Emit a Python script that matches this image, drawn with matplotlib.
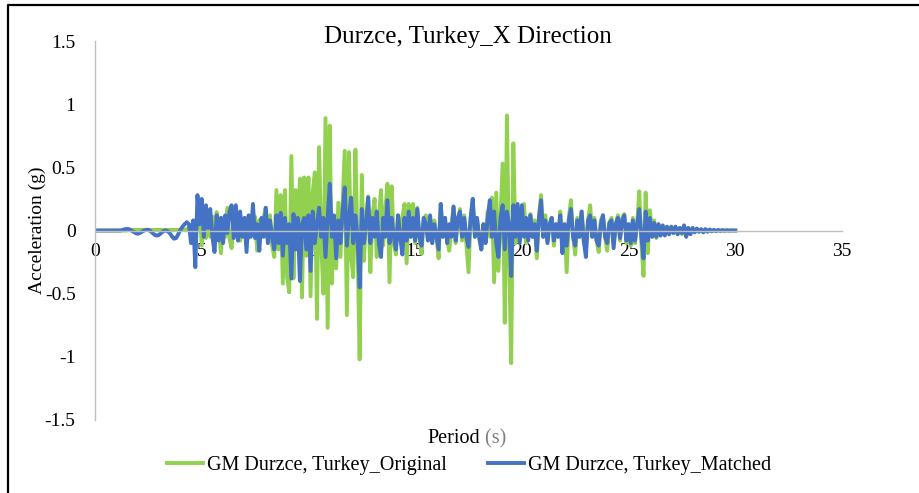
import numpy as np
import matplotlib
matplotlib.use("Agg")
import matplotlib.pyplot as plt
from matplotlib.lines import Line2D

plt.rcParams['font.family'] = ['Liberation Serif', 'DejaVu Serif']
plt.rcParams['axes.unicode_minus'] = False

# sample step of the records (s)
time_step = 0.1

# GM Durzce, Turkey_Original (g), one row per second
orig_acc = [
    0, 0, 0, 0, 0, 0, 0, 0, 0, 0,
    0, 0, 0, 0, 0, 0, 0.005, 0.005, 0.005, 0.005,
    0.005, 0.005, 0.005, 0.005, 0.005, 0.005, 0.005, 0.005, 0.005, 0.005,
    0.005, 0.005, 0.005, 0.005, 0.005, 0.005, 0.005, 0.005, 0.005, 0.005,
    0.005, 0.005, 0.005, 0.01, 0.02, 0.04, 0.06, -0.06, 0.05, 0.18,
    -0.12, 0.15, -0.06, 0.12, -0.05, 0.11, -0.03, 0.145, 0.02, -0.18,
    0.10, -0.05, 0.18, -0.06, -0.14, 0.12, -0.04, 0.13, -0.08, 0.08,
    -0.05, 0.10, -0.06, 0.09, -0.03, 0.11, -0.16, 0.08, -0.05, 0.10,
    0.18, -0.08, 0.12, -0.12, -0.21, 0.32, -0.15, 0.28, -0.42, 0.32,
    -0.37, -0.49, 0.59, -0.38, 0.32, -0.10, 0.41, -0.53, 0.42, -0.20,
    0.42, -0.52, 0.30, 0.46, -0.70, 0.66, -0.10, -0.50, 0.89, -0.77,
    0.83, -0.42, 0.10, -0.30, 0.22, -0.21, 0.20, 0.63, -0.67, 0.62,
    -0.20, -0.37, 0.64, -0.10, -1.02, 0.44, -0.24, 0.10, 0.27, -0.33,
    0.12, 0.25, -0.21, 0.10, 0.32, -0.12, 0.15, 0.37, -0.41, 0.35,
    -0.10, -0.19, 0.12, -0.08, 0.10, 0.21, -0.26, 0.21, -0.05, 0.21,
    -0.10, 0.18, -0.05, -0.185, 0.08, 0.12, -0.06, 0.10, -0.10, 0.08,
    -0.04, -0.22, 0.21, -0.05, 0.10, -0.08, -0.16, 0.05, 0.185, -0.10,
    0.05, 0.17, -0.08, 0.12, -0.10, -0.33, 0.10, 0.25, -0.05, 0.08,
    -0.06, -0.15, 0.05, -0.08, 0.15, -0.05, 0.26, -0.41, 0.30, -0.32,
    0.10, 0.53, -0.73, 0.91, -0.20, -1.05, 0.69, -0.10, 0.15, -0.08,
    0.12, 0.21, -0.10, 0.05, 0.13, -0.05, 0.08, -0.22, 0.10, 0.28,
    -0.05, 0.12, -0.08, 0.05, 0.10, -0.12, 0.05, -0.05, 0.15, -0.10,
    0.05, -0.33, 0.10, 0.24, -0.05, -0.19, 0.10, -0.05, 0.15, -0.08,
    -0.12, 0.08, 0.20, -0.05, 0.10, -0.08, -0.17, 0.08, 0.12, -0.05,
    -0.16, 0.06, 0.10, -0.10, 0.05, 0.12, -0.08, 0.10, 0.13, -0.10,
    0.05, -0.12, 0.10, -0.10, 0.05, 0.31, -0.10, -0.36, 0.30, -0.18,
    0.16, -0.05, 0.08, -0.06, 0.05, -0.04, 0.04, -0.03, 0.03, -0.03,
    0.03, -0.02, 0.03, -0.03, 0.02, -0.03, 0.04, -0.04, 0.02, -0.02,
    0.02, -0.01, 0.015, -0.01, 0.01, -0.01, 0.01, -0.005, 0.005, -0.005,
    0.005, -0.005, 0.003, -0.003, 0.002, -0.002, 0.001, -0.001, 0, 0,
    0,
]

# GM Durzce, Turkey_Matched (g), one row per second
matched_acc = [
    0, 0, 0, 0, 0, 0, 0, 0, 0, 0,
    0, 0, 0, 0.005, 0.01, 0.013, 0.01, 0, -0.01, -0.02,
    -0.026, -0.02, -0.01, 0, 0.005, 0.005, -0.005, -0.02, -0.035, -0.04,
    -0.035, -0.02, -0.005, 0, -0.005, -0.02, -0.045, -0.065, -0.06, -0.03,
    0.005, 0.03, 0.05, 0.066, 0.05, -0.10, 0.08, -0.29, 0.28, 0.05,
    0.25, -0.05, 0.20, 0.02, 0.17, -0.05, -0.17, 0.12, -0.08, 0.10,
    -0.10, 0.12, -0.02, 0.15, 0.20, -0.06, 0.20, -0.08, 0.15, -0.05,
    0.10, -0.17, 0.12, -0.05, 0.21, -0.06, 0.05, -0.16, 0.10, -0.05,
    0.18, -0.10, 0.08, -0.05, -0.15, 0.12, -0.10, 0.14, -0.20, 0.10,
    -0.10, 0.05, -0.38, 0.13, -0.15, 0.10, -0.40, 0.05, 0.10, -0.15,
    0.12, -0.32, 0.15, -0.10, 0.05, 0.18, -0.05, 0.10, -0.21, 0.10,
    0.37, -0.05, 0.12, -0.22, 0.08, -0.10, 0.15, 0.34, -0.12, 0.10,
    0.26, -0.10, 0.12, -0.05, -0.45, 0.17, -0.10, 0.05, 0.26, -0.10,
    0.10, -0.05, 0.15, -0.10, -0.21, 0.10, -0.05, 0.24, -0.10, 0.10,
    -0.05, -0.15, 0.12, -0.05, -0.19, 0.10, -0.08, 0.15, -0.05, 0.10,
    -0.08, 0.17, -0.05, -0.12, 0.10, 0.05, -0.08, 0.12, -0.10, 0.05,
    -0.05, -0.15, 0.21, -0.05, 0.10, -0.10, 0.05, -0.05, 0.19, -0.08,
    0.10, 0.15, -0.05, 0.10, -0.05, -0.13, 0.10, 0.25, -0.05, 0.10,
    -0.05, -0.15, 0.05, -0.10, 0.10, 0.24, -0.05, 0.15, -0.10, -0.21,
    0.10, 0.20, -0.15, 0.15, 0.05, -0.36, 0.20, -0.05, 0.21, -0.10,
    0.20, -0.05, 0.10, -0.08, 0.12, -0.05, 0.05, -0.16, 0.10, 0.24,
    -0.05, 0.08, -0.10, 0.05, 0.10, -0.08, 0.05, -0.05, 0.12, -0.18,
    0.05, -0.12, 0.08, 0.17, -0.05, -0.12, 0.08, -0.05, 0.15, -0.08,
    -0.21, 0.08, 0.12, -0.05, 0.08, -0.08, -0.12, 0.05, 0.12, -0.05,
    -0.10, 0.06, 0.08, -0.14, 0.05, 0.10, -0.06, 0.08, 0.12, -0.08,
    0.05, -0.10, 0.08, -0.08, 0.05, 0.17, -0.05, -0.22, 0.15, -0.08,
    0.10, -0.05, 0.06, -0.05, 0.05, -0.04, 0.04, -0.04, 0.03, -0.03,
    0.03, -0.02, 0.03, -0.03, 0.02, -0.02, 0.04, -0.05, 0.02, -0.03,
    0.02, -0.015, 0.015, -0.01, 0.01, -0.015, 0.01, -0.01, 0.008, -0.006,
    0.005, -0.005, 0.004, -0.003, 0.003, -0.002, 0.002, -0.001, 0.001, 0,
    0,
]

x_ticks = [0, 5, 10, 15, 20, 25, 30, 35]
y_ticks = [1.5, 1, 0.5, 0, -0.5, -1, -1.5]

time_s = np.arange(len(orig_acc)) * time_step

green = '#92D050'
blue = '#4472C4'
grey = '#BFBFBF'
lw = 2.8

fig = plt.figure(figsize=(9.19, 4.93), dpi=100)
ax = fig.add_axes([95 / 919, 1 - 420 / 493, 747 / 919, 379 / 493])

ax.plot(time_s, orig_acc, color=green, lw=lw, solid_joinstyle='round')
ax.plot(time_s, matched_acc, color=blue, lw=lw, solid_joinstyle='round')

ax.set_xlim(0, 35)
ax.set_ylim(-1.5, 1.5)
ax.set_xticks(x_ticks)
ax.set_yticks(y_ticks)
ax.set_xticklabels(['%g' % v for v in x_ticks])
ax.set_yticklabels(['%g' % v for v in y_ticks])
ax.tick_params(axis='both', length=0, labelsize=14, colors='black')
ax.tick_params(axis='x', pad=9)
ax.tick_params(axis='y', pad=14)

for s in ['top', 'right']:
    ax.spines[s].set_visible(False)
ax.spines['left'].set_color(grey)
ax.spines['bottom'].set_color(grey)
ax.spines['bottom'].set_position(('data', 0))
ax.spines['left'].set_linewidth(1.0)
ax.spines['bottom'].set_linewidth(1.0)
ax.patch.set_alpha(0)

fig.text(468 / 919, 1 - 43 / 493, 'Durzce, Turkey_X Direction',
         ha='center', va='baseline', fontsize=18)
fig.text(37 / 919, 1 - 230.5 / 493, 'Acceleration (g)', rotation=90,
         ha='center', va='center', fontsize=14)

# axis title, unit shown in grey
t1 = fig.text(480 / 919, 1 - 443 / 493, 'Period', ha='right',
              va='baseline', fontsize=14.5)
ax.annotate(' (s)', xy=(1, 0), xycoords=t1, ha='left', va='bottom',
            fontsize=14.5, color='#7F7F7F')

handles = [Line2D([], [], color=green, lw=lw),
           Line2D([], [], color=blue, lw=lw)]
fig.legend(handles, ['GM Durzce, Turkey_Original',
                     'GM Durzce, Turkey_Matched'],
           loc='center', bbox_to_anchor=(469 / 919, 1 - 465 / 493),
           ncol=2, frameon=False, fontsize=14.5, handlelength=1.8,
           handletextpad=0.2, columnspacing=2.0)

# chart border (only top and left edges fall inside the picture)
fig.add_artist(Line2D([8 / 919, 8 / 919, 1], [0, 1 - 5 / 493, 1 - 5 / 493],
                      color='black', lw=1.6, transform=fig.transFigure))

fig.savefig('out.png', dpi=100)
